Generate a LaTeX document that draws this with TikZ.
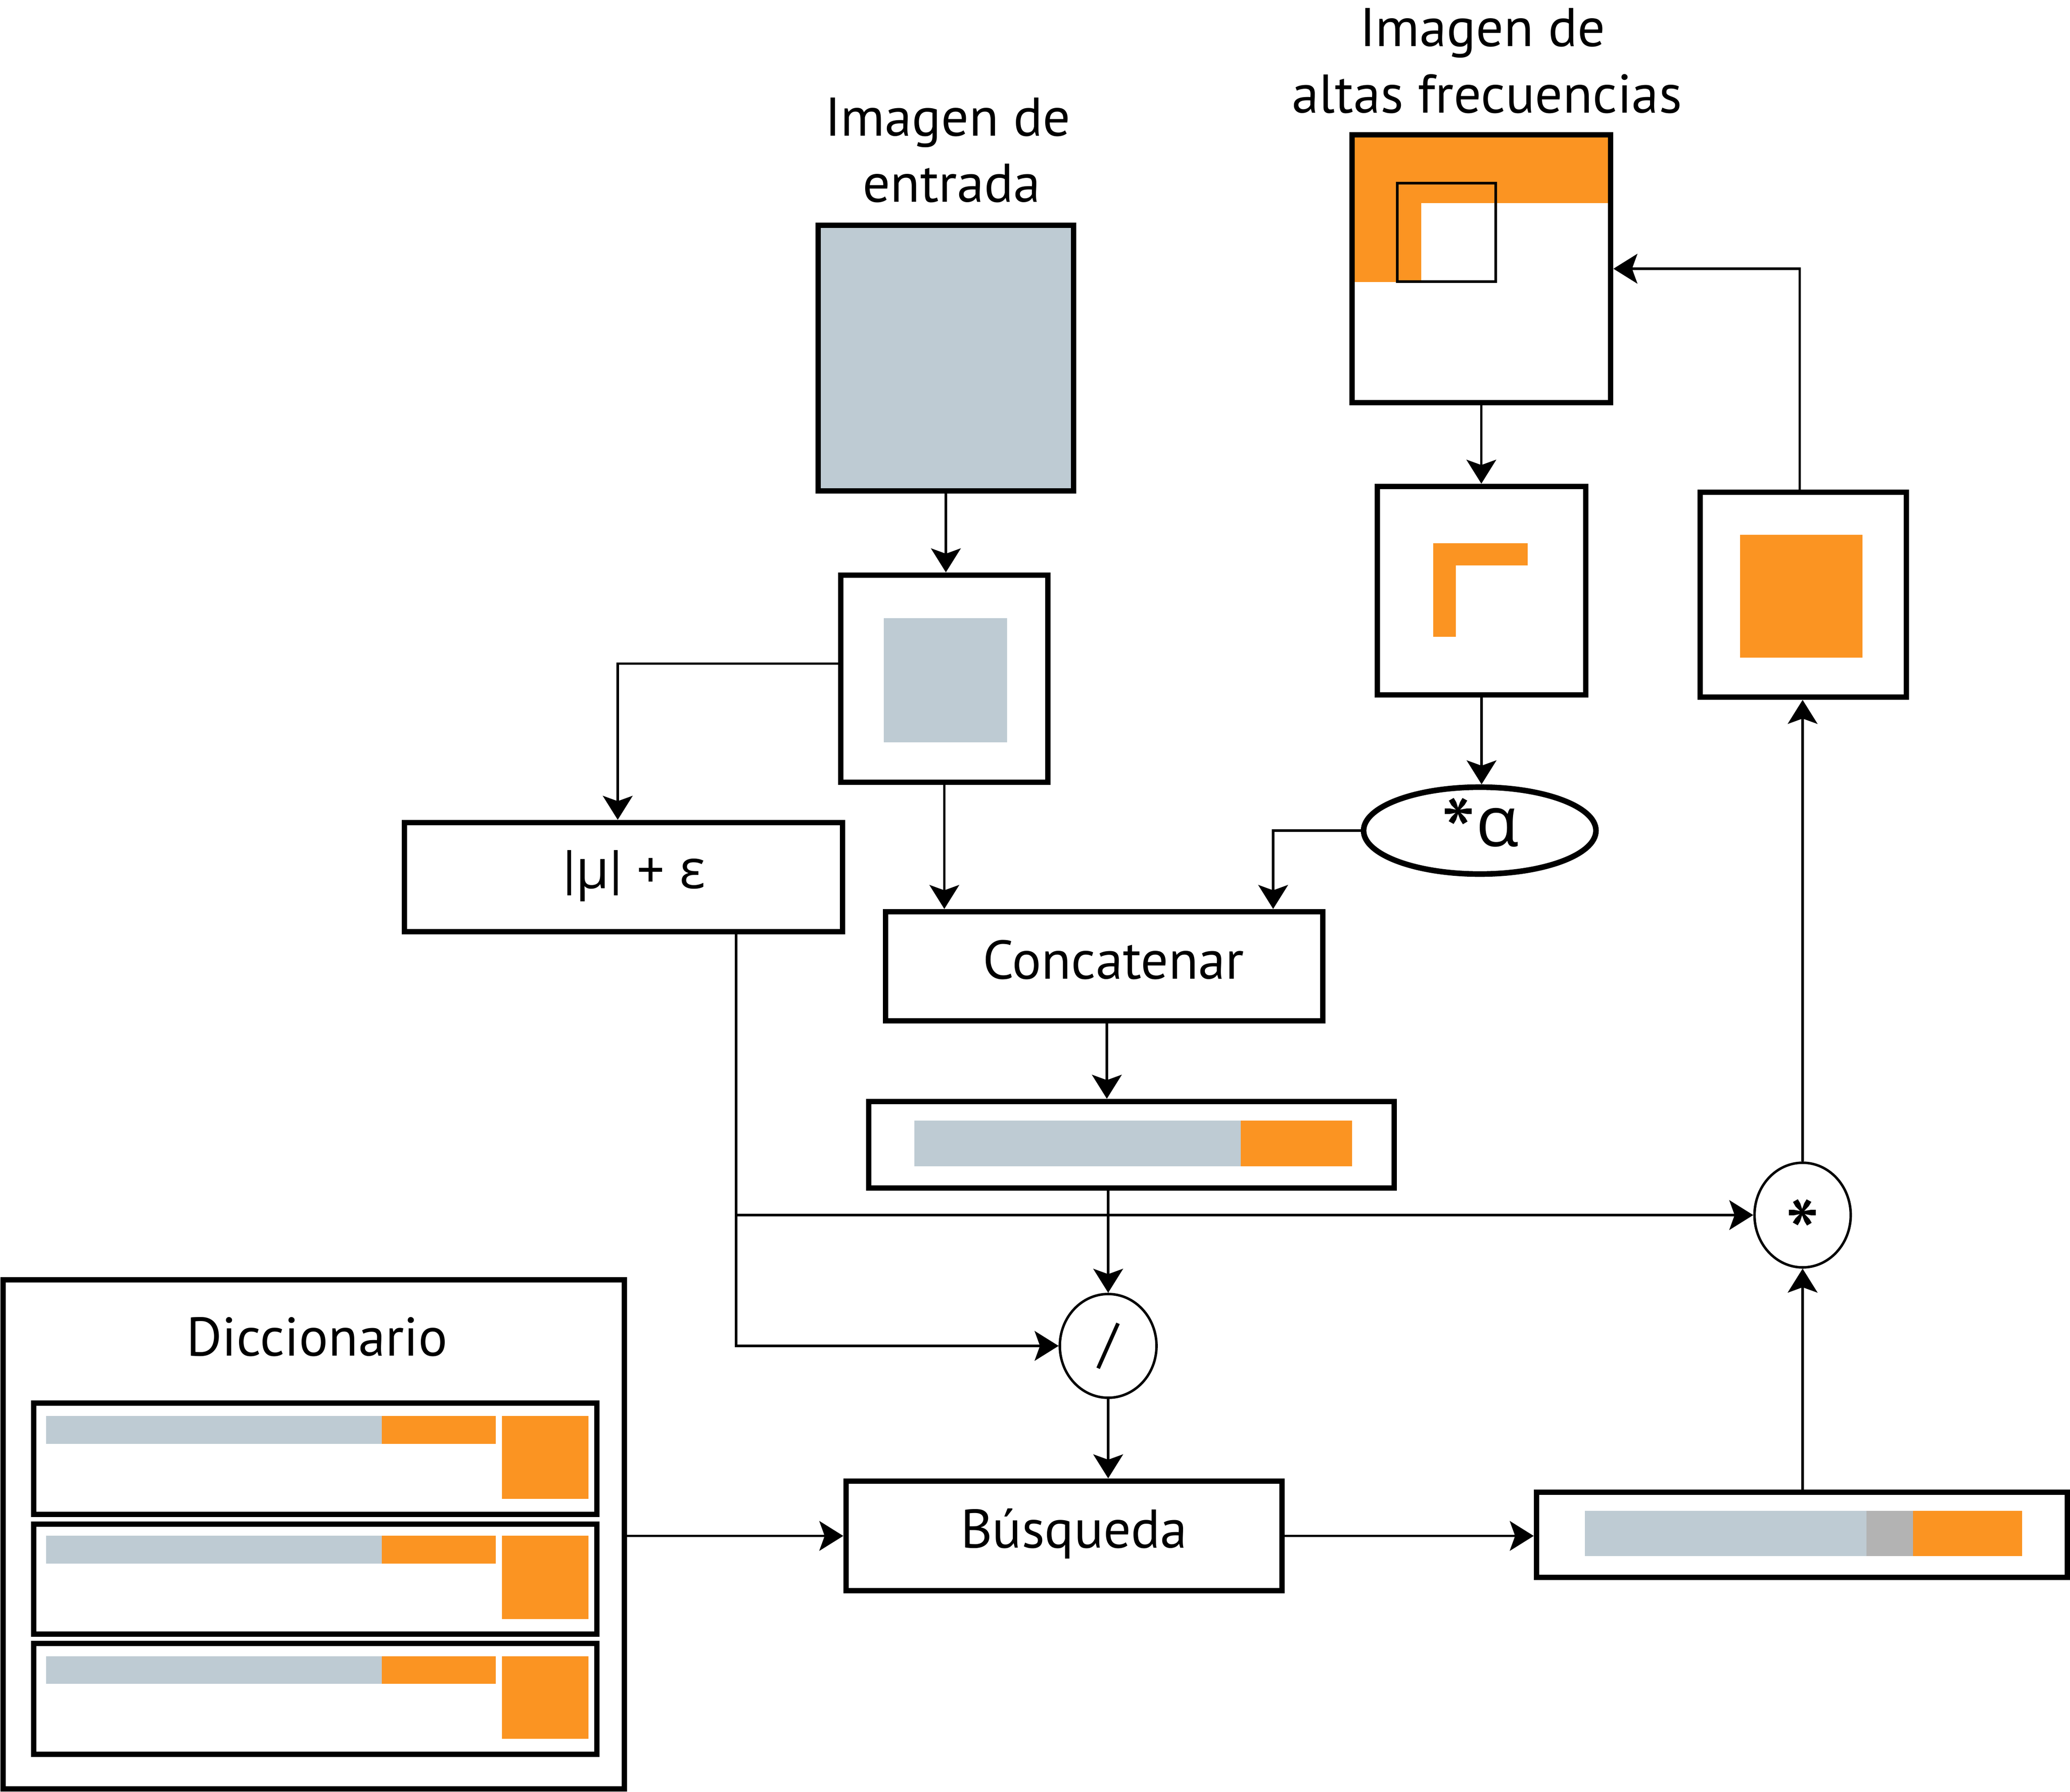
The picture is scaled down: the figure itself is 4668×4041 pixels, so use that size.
\documentclass[tikz,border=0pt]{standalone}
\usepackage{fontspec}
\setmainfont{PT Sans}
\newfontfamily\grk{Open Sans}
\usetikzlibrary{arrows.meta,shapes.geometric,calc}
\definecolor{bgray}{RGB}{190,203,211}
\definecolor{orng}{RGB}{251,148,34}
\definecolor{dgray}{RGB}{179,179,179}
\begin{document}
\begin{tikzpicture}[x=0.1mm,y=-0.1mm,
  box/.style={draw, line width=3.6pt, inner sep=0pt},
  thinline/.style={line width=1.6pt},
  arr/.style={thinline, -{Stealth[length=5.4mm,width=6.7mm,inset=1.2mm]}},
  op/.style={draw, ellipse, line width=1.6pt, inner sep=0pt},
  lbl/.style={font=\fontsize{35pt}{42pt}\selectfont, inner sep=0pt, anchor=base}]
\fill[white] (0,0) rectangle (4668,4041);
\useasboundingbox (0,0) rectangle (4668,4041);

% high-frequency image
\fill[orng] (3049,304) rectangle (3632,458);
\fill[orng] (3049,304) rectangle (3205,636);
\draw[line width=1.8pt] (3151,413) rectangle (3373,635);
\node[box, minimum width=58.3mm, minimum height=60.4mm] (hfimg) at (3340.5,606) {};
\node[lbl] (hft1) at (3343,105) {Imagen de};
\node[lbl] (hft2) at (3353,255) {altas frecuencias};

% input image
\node[box, fill=bgray, minimum width=57.6mm, minimum height=59.9mm] (inimg) at (2133,807.5) {};
\node[lbl] (int1) at (2137,307) {Imagen de};
\node[lbl] (int2) at (2146,456) {entrada};

% patch of input
\node[box, minimum width=46.7mm, minimum height=46.7mm] (gsq) at (2129.5,1530.5) {};
\fill[bgray] (1993,1394) rectangle (2271,1674);

% L patch
\node[box, minimum width=47mm, minimum height=47mm] (Lbox) at (3341,1332) {};
\fill[orng] (3232,1225) rectangle (3445,1275);
\fill[orng] (3232,1225) rectangle (3283,1436);

% orange patch
\node[box, minimum width=46.5mm, minimum height=46.2mm] (osq) at (4066.5,1341) {};
\fill[orng] (3924,1206) rectangle (4200,1483);

% |mu|+eps
\node[box, minimum width=98.8mm, minimum height=24.6mm] (mu) at (1406,1978) {};
\node[lbl] (muT) at (1430,2003) {|{\grk μ}| + {\grk ε}};

% Concatenar
\node[box, minimum width=98.6mm, minimum height=24.6mm] (concat) at (2490,2179) {};
\node[lbl] (concatT) at (2511,2207) {Concatenar};

% *alpha
\node[draw, ellipse, line width=3.6pt, minimum width=52.4mm, minimum height=19.6mm, inner sep=0pt] (alpha) at (3337,1873) {};
\node[lbl, font=\fontsize{45pt}{50pt}\selectfont] (alphaT) at (3337,1908) {\raisebox{-15pt}{\fontsize{64pt}{64pt}\selectfont *}{\grk α}};

% concatenated vector
\node[box, minimum width=118.5mm, minimum height=19.5mm] (vec1) at (2551.5,2581.5) {};
\fill[bgray] (2062,2527) rectangle (2798,2630);
\fill[orng] (2798,2527) rectangle (3049,2630);

% operators
\node[op, minimum width=21.8mm, minimum height=23.4mm] (div) at (2499,3035) {};
\node[font=\fontsize{35pt}{42pt}\selectfont, inner sep=0pt] (divT) at (2499,3035) {/};
\node[op, minimum width=21.7mm, minimum height=23.6mm] (star) at (4065,2740) {};
\node[lbl, font=\fontsize{64pt}{64pt}\selectfont] (starT) at (4065,2865) {*};

% Busqueda
\node[box, minimum width=98.3mm, minimum height=24.7mm] (busq) at (2399.5,3463.5) {};
\node[lbl] (busqT) at (2422,3490) {Búsqueda};

% output vector
\node[box, minimum width=119.7mm, minimum height=19.2mm] (vec2) at (4063.5,3461) {};
\fill[bgray] (3574,3407) rectangle (4209,3509);
\fill[dgray] (4209,3407) rectangle (4314,3509);
\fill[orng] (4314,3407) rectangle (4560,3509);

% dictionary
\node[box, minimum width=140.1mm, minimum height=114.8mm] (dict) at (707.5,3460) {};
\node[lbl] (dictT) at (715,3057) {Diccionario};
\node[box, line width=3.4pt, minimum width=127mm, minimum height=25.1mm] (row1) at (711,3289.5) {};
\node[box, line width=3.4pt, minimum width=127mm, minimum height=24.8mm] (row2) at (711,3561) {};
\node[box, line width=3.4pt, minimum width=127mm, minimum height=25mm] (row3) at (711,3831) {};
\fill[bgray] (104,3193) rectangle (861,3256);
\fill[orng] (861,3193) rectangle (1118,3256);
\fill[orng] (1132,3193) rectangle (1327,3380);
\fill[bgray] (104,3463) rectangle (861,3526);
\fill[orng] (861,3463) rectangle (1118,3526);
\fill[orng] (1132,3463) rectangle (1327,3651);
\fill[bgray] (104,3735) rectangle (861,3797);
\fill[orng] (861,3735) rectangle (1118,3797);
\fill[orng] (1132,3735) rectangle (1327,3921);

% connectors
\draw[arr] (inimg.south) -- (inimg.south |- gsq.north);
\draw[arr] ([yshift=3.4mm]gsq.west) -| ([xshift=-1.3mm]mu.north);
\draw[arr] (gsq.south) -- (gsq.south |- concat.north);
\draw[arr] (hfimg.south) -- (hfimg.south |- Lbox.north);
\draw[arr] (Lbox.south) -- (Lbox.south |- alpha.north);
\draw[arr] (alpha.west) -| ([xshift=38.1mm]concat.north);
\draw[arr] ([xshift=0.6mm]concat.south) -- ([xshift=0.6mm]concat.south |- vec1.north);
\draw[arr] (div.north |- vec1.south) -- (div.north);
\draw[arr] ([xshift=25.4mm]mu.south) |- (div.west);
\coordinate (br) at (1660,2740);
\draw[arr] (br) -- (star.west);
\draw[arr] (div.south) -- (div.south |- busq.north);
\draw[arr] (busq.west -| dict.east) -- (busq.west);
\draw[arr] (busq.east) -- (busq.east -| vec2.west);
\draw[arr] (star.south |- vec2.north) -- (star.south);
\draw[arr] (star.north) -- (star.north |- osq.south);
\draw[arr] ([xshift=-0.8mm]osq.north) |- (hfimg.east);
\end{tikzpicture}
\end{document}
